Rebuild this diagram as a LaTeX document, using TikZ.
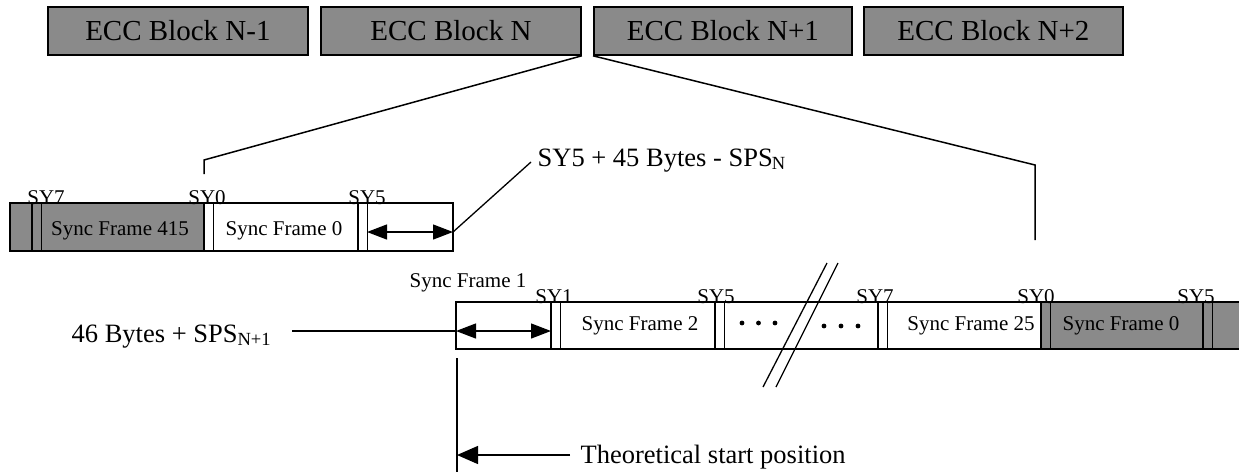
\documentclass[tikz,border=0pt]{standalone}
\usepackage{fontspec}
\setmainfont{Liberation Serif}
\usepackage{tikz}
\usetikzlibrary{arrows.meta}
\newcommand{\eccfill}{black!46}
\tikzset{
  ecc/.style={draw, line width=1.8pt, fill=\eccfill, minimum height=48pt,
    inner sep=0pt, anchor=north west, font=\fontsize{29}{30}\selectfont},
  sy/.style={anchor=base, inner sep=0pt, font=\fontsize{21}{21}\selectfont},
  sf/.style={inner sep=0pt, font=\fontsize{21}{24}\selectfont},
  big/.style={inner sep=0pt, font=\fontsize{26.5}{30}\selectfont},
  >={Triangle[length=20pt,width=15pt]},
}
\begin{document}
\begin{tikzpicture}[x=1pt, y=-1pt, line width=1.3pt]
  \useasboundingbox (0,0) rectangle (1239,472);

  % ECC blocks
  \node[ecc, minimum width=260pt] (blk1) at (47,6) {ECC Block N-1};
  \node[ecc, minimum width=260pt] (blk2) at (320,6) {ECC Block N};
  \node[ecc, minimum width=258pt] (blk3) at (593,6) {ECC Block N+1};
  \node[ecc, minimum width=259pt] (blk4) at (863,6) {ECC Block N+2};

  % zoom lines
  \coordinate (lk) at (204,160);
  \coordinate (lkend) at (204,174);
  \coordinate (rk) at (1035,165);
  \coordinate (rkend) at (1035,240);
  \draw[line width=1.5pt] (blk2.south east) -- (lk) -- (lkend);
  \draw[line width=1.5pt] (blk3.south west) -- (rk) -- (rkend);

  % first row of sync frames
  \fill[\eccfill] (10,203) rectangle (204,251);
  \draw (10,203) rectangle (453,251);
  \foreach \x/\lx/\lab in {32/46/SY7, 204/207/SY0, 358/367/SY5}{
    \draw (\x,203) -- (\x,251) (\x+9.5,203) -- (\x+9.5,251);
    \node[sy] (ra-\lab) at (\lx,204) {\lab};
  }
  \node[sf] (fa415) at (120,231) {Sync Frame 415};
  \node[sf] (fa0) at (284,231) {Sync Frame 0};
  \coordinate (aa1) at (367,232);
  \coordinate (aa2) at (453,232);
  \draw[<->] (aa1) -- (aa2);
  \node[big, anchor=base west] (sps) at (537,166) {SY5 + 45 Bytes - SPS\kern-1pt\textsubscript{N}};
  \coordinate (spsend) at (531,162);
  \draw (aa2) -- (spsend);

  % second row of sync frames
  \fill[\eccfill] (1041,302) rectangle (1239,349);
  \draw (1239,302) -- (456,302) -- (456,349) -- (1239,349);
  \foreach \x/\lx/\lab in {551/554/SY1, 715/716/SY5, 878/875/SY7, 1041/1036/SY0, 1203/1196/SY5}{
    \draw (\x,302) -- (\x,349) (\x+9.5,302) -- (\x+9.5,349);
    \node[sy] (rb-\x) at (\lx,303) {\lab};
  }
  \node[sf] (fb1) at (468,283) {Sync Frame 1};
  \node[sf] (fb2) at (640,326) {Sync Frame 2};
  \node[sf] (fb25) at (971,326) {Sync Frame 25};
  \node[sf] (fb0) at (1121,326) {Sync Frame 0};
  \foreach \x in {742,758.5,775} \fill (\x,323) circle (2.4pt);
  \foreach \x in {824,841,858} \fill (\x,326) circle (2.4pt);
  % break marks
  \draw (827,263) -- (763,387);
  \draw (838,263) -- (776,387);

  \coordinate (ab1) at (456,331);
  \coordinate (ab2) at (551,331);
  \draw[<->] (ab1) -- (ab2);
  \node[big, anchor=base west] (byt) at (71,342) {46 Bytes + SPS\textsubscript{N+1}};
  \coordinate (bytend) at (292,331);
  \draw (bytend) -- (ab1);

  % start position
  \coordinate (st1) at (457,358);
  \coordinate (st2) at (457,472);
  \coordinate (thtip) at (457,455);
  \draw (st1) -- (st2);
  \node[big, anchor=west] (theo) at (580,457) {Theoretical start position};
  \coordinate (thend) at (570,455);
  \draw[-{Triangle[length=21pt,width=18pt]}] (thend) -- (thtip);

\end{tikzpicture}
\end{document}
